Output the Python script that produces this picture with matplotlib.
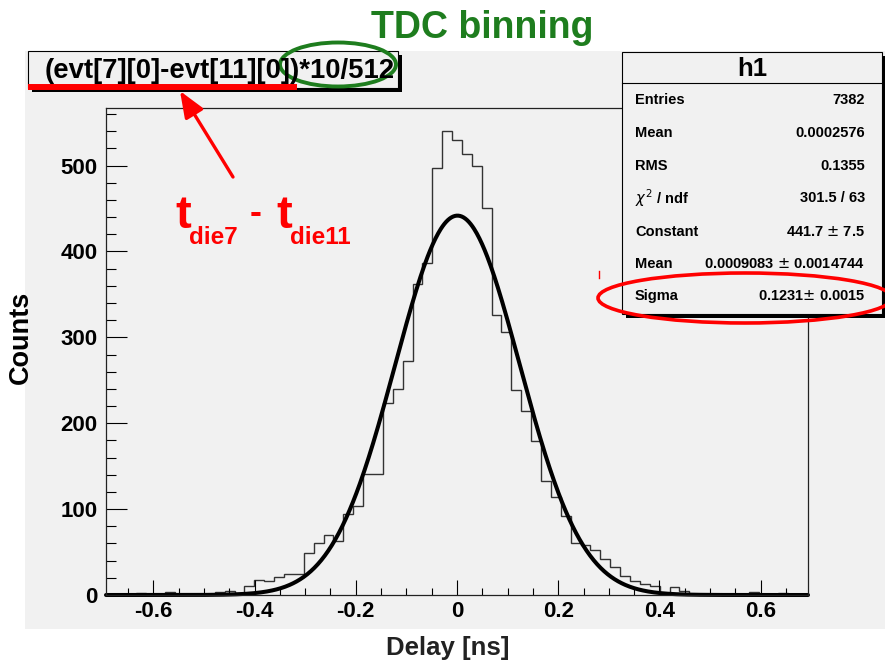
import numpy as np
import matplotlib
matplotlib.use('Agg')
import matplotlib.pyplot as plt
from matplotlib.patches import Rectangle, Ellipse, FancyArrowPatch, ArrowStyle

plt.rcParams['font.family'] = ['Liberation Sans', 'DejaVu Sans']
plt.rcParams['axes.unicode_minus'] = False
plt.rcParams['mathtext.fontset'] = 'dejavusans'

# ---------------- data ----------------
tdc_bin_ns = 10 / 512                 # one TDC count in ns
bin_index = np.arange(-35, 36)        # histogram bins (TDC counts)
counts = [0, 0, 0, 2, 0, 0, 3, 0, 1, 1, 1, 3, 5, 2,      # -35 .. -22
          10, 18, 16, 21, 24, 25, 49,                     # -21 .. -15
          60, 70, 63, 94, 104, 141, 141,                  # -14 .. -8
          224, 240, 272, 362, 387, 497, 540,              # -7 .. -1
          530, 513, 500, 451, 326, 306, 239,              # 0 .. 6
          214, 179, 133, 114, 92, 61, 58,                 # 7 .. 13
          52, 42, 33, 22, 16, 13, 10,                     # 14 .. 20
          2, 9, 5, 1, 1, 0, 1, 1, 1, 4, 1, 0, 2, 1, 0]    # 21 .. 35

fit_constant = 441.7
fit_mean = 0.0009083
fit_sigma = 0.1231

xtick_values = [-0.6, -0.4, -0.2, 0.0, 0.2, 0.4, 0.6]
xtick_labels = ['-0.6', '-0.4', '-0.2', '0', '0.2', '0.4', '0.6']
ytick_values = [0, 100, 200, 300, 400, 500]
ytick_labels = ['0', '100', '200', '300', '400', '500']

stats_labels = ['Entries', 'Mean', 'RMS', r'$\chi^{2}$ / ndf', 'Constant', 'Mean', 'Sigma']
stats_values = ['7382', '0.0002576', '0.1355', '301.5 / 63', '441.7 $\\pm$ 7.5',
                '0.0009083 $\\pm$ 0.0014744', '0.1231$\\pm$ 0.0015']

title_text = '(evt[7][0]-evt[11][0])*10/512'
stats_title = 'h1'
xlabel = 'Delay [ns]'
ylabel = 'Counts'
banner = 'TDC binning'

# ---------------- figure ----------------
W, H = 885, 663
GRAY = '#f1f1f1'
GREEN = '#1e7d1e'
RED = '#ff0000'

fig = plt.figure(figsize=(W / 100, H / 100), dpi=100)
fig.patch.set_facecolor('white')

def fx(px):
    return px / W

def fy(py):
    return 1 - py / H

panel = Rectangle((fx(25), fy(629)), fx(885 - 25), (629 - 51) / H,
                  transform=fig.transFigure, facecolor=GRAY, edgecolor='none', zorder=-5)
fig.patches.append(panel)

ax = fig.add_axes([fx(106), fy(595), fx(808 - 106), (595 - 108) / H])
ax.set_facecolor(GRAY)

edges = (np.append(bin_index, bin_index[-1] + 1) - 0.5) * tdc_bin_ns
ax.stairs(counts, edges, color='#333333', lw=1.0)

xc = np.linspace(edges[0], edges[-1], 800)
yc = fit_constant * np.exp(-0.5 * ((xc - fit_mean) / fit_sigma) ** 2)
ax.plot(xc, yc, color='black', lw=2.9, solid_capstyle='round', clip_on=False)

ax.set_xlim(edges[0], edges[-1])
ax.set_ylim(0, 1.05 * max(counts))

ax.set_xticks(xtick_values)
ax.set_xticklabels(xtick_labels, fontsize=16, fontweight='bold')
ax.set_xticks(np.arange(-0.65, 0.66, 0.05), minor=True)
ax.set_yticks(ytick_values)
ax.set_yticklabels(ytick_labels, fontsize=16, fontweight='bold')
ax.set_yticks(np.arange(0, 561, 20), minor=True)

ax.tick_params(axis='x', which='major', direction='in', length=10.5, width=0.8, pad=4)
ax.tick_params(axis='x', which='minor', direction='in', length=5.2, width=0.8)
ax.tick_params(axis='y', which='major', direction='in', length=15, width=0.8, pad=6)
ax.tick_params(axis='y', which='minor', direction='in', length=7.5, width=0.8)
for s in ax.spines.values():
    s.set_linewidth(0.9)
    s.set_color('#222222')

fig.text(fx(21), fy(337), ylabel, rotation=90, ha='center', va='center',
         fontsize=19.5, fontweight='bold')
fig.text(fx(448), fy(648), xlabel, ha='center', va='center',
         fontsize=18.5, fontweight='bold', color='#222222')

# ---------------- overlay (annotations) ----------------
ov = fig.add_axes([0, 0, 1, 1], zorder=10)
ov.set_xlim(0, W)
ov.set_ylim(H, 0)
ov.axis('off')
ov.patch.set_alpha(0)

ov.text(482, 28, banner, ha='center', va='center', fontsize=27,
        fontweight='bold', color=GREEN)

# title box
ov.add_patch(Rectangle((32, 55), 370, 37, facecolor='black', edgecolor='none'))
ov.add_patch(Rectangle((28, 51), 370, 37, facecolor=GRAY, edgecolor='black', lw=0.8))
ov.text(45, 71, title_text, ha='left', va='center', fontsize=19.8, fontweight='bold')
ov.plot([28, 297], [87, 87], color=RED, lw=4.3, solid_capstyle='butt')
ov.add_patch(Ellipse((338, 64.5), 116, 44, fill=False, edgecolor=GREEN, lw=2.8))

# arrow
arr = FancyArrowPatch((233, 177), (180, 91),
                      arrowstyle=ArrowStyle('-|>', head_length=0.8, head_width=0.32),
                      mutation_scale=20, color=RED, lw=2.4, shrinkA=0, shrinkB=0)
ov.add_patch(arr)

# t_die7 - t_die11
ov.text(175, 228, 't', ha='left', va='baseline', fontsize=34, fontweight='bold', color=RED)
ov.text(189, 244, 'die7', ha='left', va='baseline', fontsize=17.5, fontweight='bold', color=RED)
ov.text(256, 214, '-', ha='center', va='center', fontsize=26, fontweight='bold', color=RED)
ov.text(276, 228, 't', ha='left', va='baseline', fontsize=34, fontweight='bold', color=RED)
ov.text(290, 244, 'die11', ha='left', va='baseline', fontsize=17.5, fontweight='bold', color=RED)

# stats box
ov.add_patch(Rectangle((626, 56), 260, 262, facecolor='black', edgecolor='none'))
ov.add_patch(Rectangle((622, 52), 260, 262, facecolor=GRAY, edgecolor='black', lw=0.8))
ov.plot([622, 882], [83, 83], color='black', lw=0.8)
ov.text(752, 69, stats_title, ha='center', va='center', fontsize=18.5, fontweight='bold')
row_y = [100, 133, 166, 198, 232, 264, 296]
for lab, val, yy in zip(stats_labels, stats_values, row_y):
    ov.text(635, yy, lab, ha='left', va='center', fontsize=10.5, fontweight='bold')
    ov.text(865, yy, val, ha='right', va='center', fontsize=10.5, fontweight='bold')

ov.add_patch(Ellipse((745, 298), 294, 50, fill=False, edgecolor=RED, lw=2.6, clip_on=False))
ov.plot([599, 599], [271, 278], color=RED, lw=1)

fig.savefig('out.png', dpi=100, facecolor='white')
